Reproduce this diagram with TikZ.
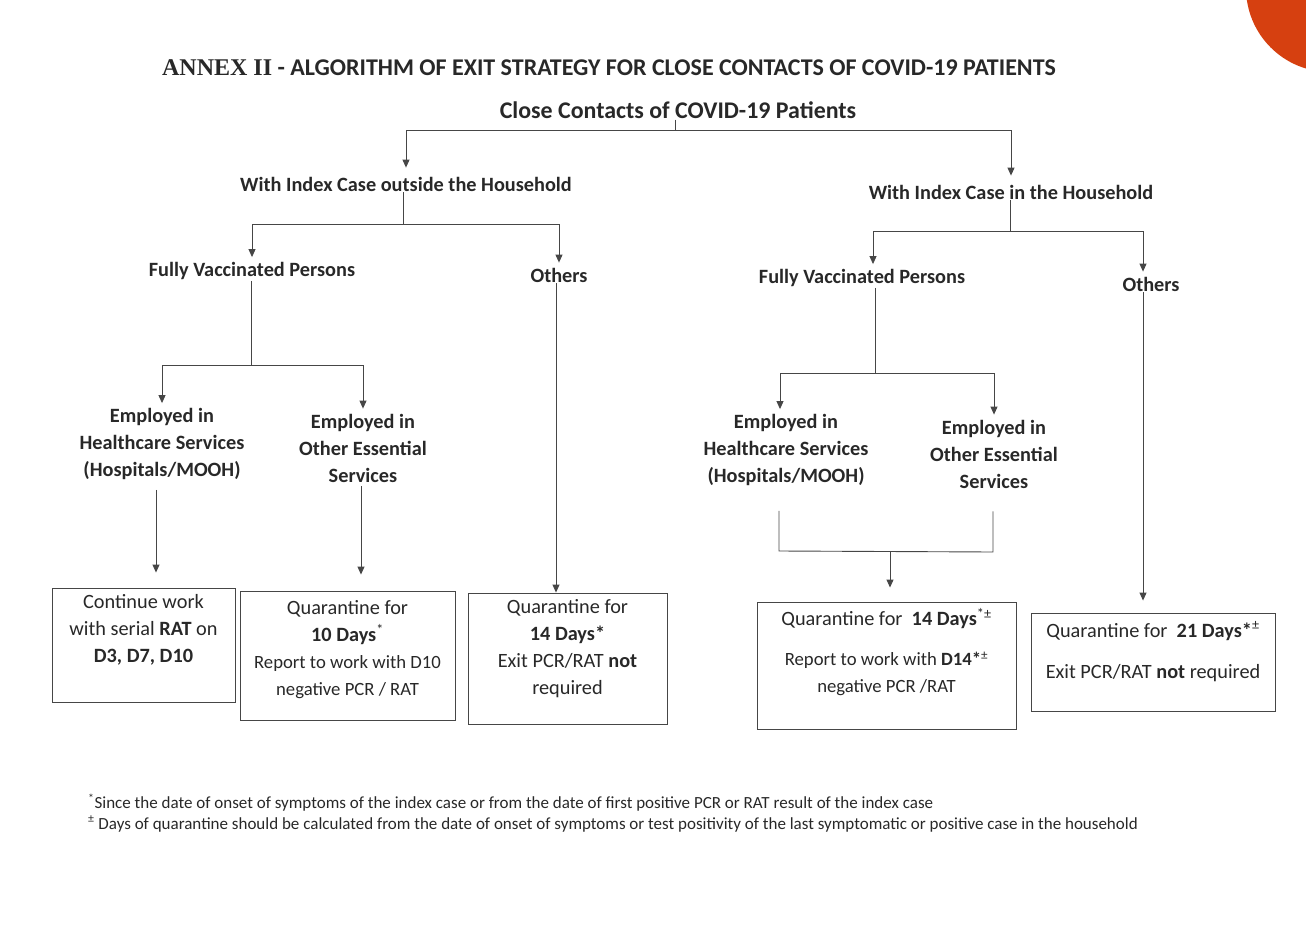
\documentclass[tikz,border=0pt]{standalone}
\usepackage{fontspec}
\setmainfont{Carlito}
\newfontfamily\annexfont{Liberation Serif}
\usetikzlibrary{arrows.meta,positioning,calc}
\definecolor{inkgray}{RGB}{40,40,40}
\definecolor{linegray}{RGB}{70,70,70}
\definecolor{cornerorange}{RGB}{214,64,16}
\tikzset{>={Triangle[length=8pt,width=7pt]}}
\tikzset{
  lbl/.style={font=\fontsize{20.3}{27}\selectfont\bfseries, align=center, text=inkgray, inner sep=1pt},
  outbox/.style={draw=linegray, line width=0.9pt},
  boxtext/.style={font=\fontsize{20.3}{27}\selectfont, align=center, text=inkgray, inner sep=0pt},
  link/.style={draw=linegray, line width=0.9pt},
  arr/.style={link, ->, shorten >=4pt},
  fnote/.style={anchor=west, font=\fontsize{17}{19}\selectfont, text=inkgray, inner sep=0pt}
}
\newcommand{\smalltext}{\fontsize{18.7}{26}\selectfont}

\begin{document}
\begin{tikzpicture}[x=1pt, y=-1pt]
	\useasboundingbox (0,0) rectangle (1306,947);
	\fill[cornerorange] (1330,-12) circle[radius=84];

	% headings
	\node[font=\fontsize{24}{28}\selectfont\bfseries, text=inkgray] (title) at (609,68) {{\annexfont ANNEX II} - ALGORITHM OF EXIT STRATEGY FOR CLOSE CONTACTS OF COVID-19 PATIENTS};
	\node[lbl, font=\fontsize{23.9}{28}\selectfont\bfseries] (root) at (678,110) {Close Contacts of COVID-19 Patients};

	% tree labels
	\node[lbl] (outside) at (406,184) {With Index Case outside the Household};
	\node[lbl] (inside) at (1011,192) {With Index Case in the Household};
	\node[lbl] (fvout) at (252,271) {Fully Vaccinated Persons};
	\node[lbl] (othout) at (559,275) {Others};
	\node[lbl] (fvin) at (862,278) {Fully Vaccinated Persons};
	\node[lbl] (othin) at (1151,284) {Others};
	\node[lbl] (hcout) at (162,444) {Employed in\\Healthcare Services\\(Hospitals/MOOH)};
	\node[lbl] (esout) at (363,448) {Employed in\\Other Essential\\Services};
	\node[lbl] (hcin) at (786,450) {Employed in\\Healthcare Services\\(Hospitals/MOOH)};
	\node[lbl] (esin) at (994,454) {Employed in\\Other Essential\\Services};

	% outcome boxes
	\node[outbox, minimum width=183, minimum height=114] (hcoutbox) at (143.5,645) {};
	\node[boxtext] (hcouttxt) at (143.5,630) {Continue work\\with serial \textbf{RAT} on\\\textbf{D3, D7, D10}};
	\node[outbox, minimum width=215, minimum height=129] (esoutbox) at (347.5,655.5) {};
	\node[boxtext] (esouttxt) at (347.5,650) {Quarantine for\\\textbf{10 Days}\textsuperscript{*}\\{\smalltext Report to work with D10}\\{\smalltext negative PCR / RAT}};
	\node[outbox, minimum width=199, minimum height=131] (othoutbox) at (567.5,658.5) {};
	\node[boxtext] (othouttxt) at (567.5,649) {Quarantine for\\\textbf{14 Days*}\\Exit PCR/RAT \textbf{not}\\required};
	\node[outbox, minimum width=259, minimum height=127] (fvinbox) at (886.5,665.5) {};
	\node[boxtext] (fvintxt) at (886.5,652) {Quarantine for\ \ \textbf{14 Days}\textsuperscript{*±}\\[13pt]{\smalltext Report to work with \textbf{D14*}\textsuperscript{±}}\\{\smalltext negative PCR /RAT}};
	\node[outbox, minimum width=244, minimum height=98] (othinbox) at (1153,662) {};
	\node[boxtext] (othintxt) at (1153,651.5) {Quarantine for\ \ \textbf{21 Days*}\textsuperscript{±}\\[14pt]Exit PCR/RAT \textbf{not} required};

	% top split
	\coordinate (rootj) at (675,130);
	\draw[link] (root.south -| rootj) -- (rootj);
	\draw[arr, shorten >=8pt] (rootj) -| (outside.north);
	\draw[arr, shorten >=8pt] (rootj) -| (inside.north);

	% index case outside the household
	\coordinate (outj) at (403,224);
	\draw[link] (outside.south -| outj) -- (outj);
	\draw[arr] (outj) -| (fvout.north);
	\draw[arr] (outj) -| (othout.north);
	\coordinate (fvoutj) at (251,365);
	\draw[link] (fvout.south -| fvoutj) -- (fvoutj);
	\draw[arr] (fvoutj) -| (hcout.north);
	\draw[arr] (fvoutj) -| (esout.north);
	\draw[link, ->, shorten <=9pt, shorten >=15pt] ([xshift=-6pt]hcout.south) -- ([xshift=-6pt]hcout.south |- hcoutbox.north);
	\draw[link, ->, shorten <=3pt, shorten >=16pt] ([xshift=-2pt]esout.south) -- ([xshift=-2pt]esout.south |- esoutbox.north);
	\draw[link, ->] ([xshift=-3pt]othout.south) -- ([xshift=-3pt]othout.south |- othoutbox.north);

	% index case in the household
	\coordinate (inj) at (1010,231);
	\draw[link] (inside.south -| inj) -- (inj);
	\draw[arr] (inj) -| ([xshift=11pt]fvin.north);
	\draw[arr] (inj) -| ([xshift=-8pt]othin.north);
	\coordinate (fvinj) at (875,373);
	\draw[link] (fvin.south -| fvinj) -- (fvinj);
	\draw[arr] (fvinj) -| ([xshift=-6pt]hcin.north);
	\draw[arr] (fvinj) -| (esin.north);
	\draw[link, ->, shorten >=12pt] ([xshift=-8pt]othin.south) -- ([xshift=-8pt]othin.south |- othinbox.north);

	% bracket joining both employment groups
	\coordinate (brl) at (779,551);
	\coordinate (brr) at (993,552);
	\coordinate (brj) at (890,552);
	\draw[link, shorten <=24pt, shorten >=22pt] (hcin.south -| brl) -- (brl) -- (brr) -- (esin.south -| brr);
	\draw[arr, shorten >=14pt] (brj) -- (brj |- fvinbox.north);

	% footnotes
	\node[fnote] (fnstar) at (88,803) {\textsuperscript{*}Since the date of onset of symptoms of the index case or from the date of first positive PCR or RAT result of the index case};
	\node[fnote] (fnpm) at (88,824) {\textsuperscript{±} Days of quarantine should be calculated from the date of onset of symptoms or test positivity of the last symptomatic or positive case in the household};
\end{tikzpicture}
\end{document}
